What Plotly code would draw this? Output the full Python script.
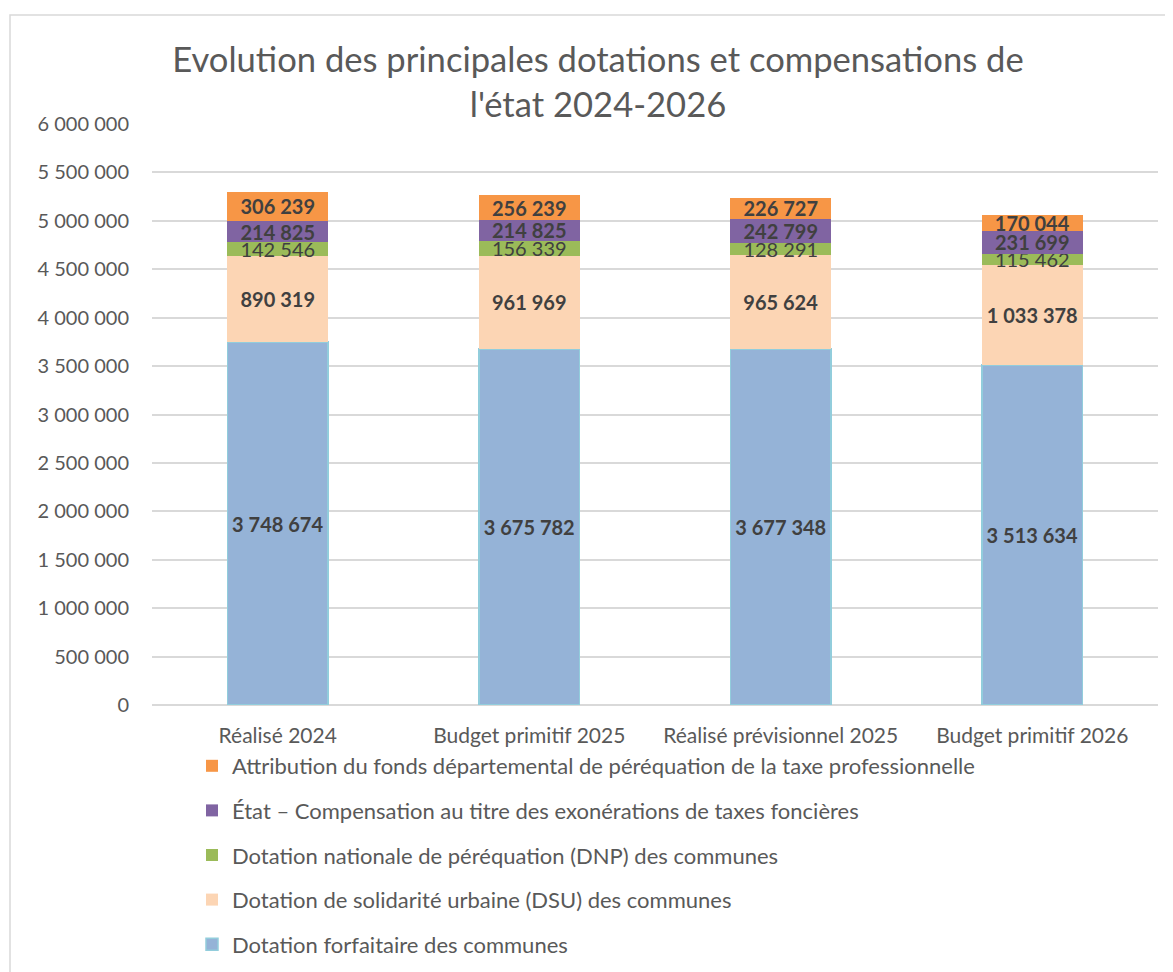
import plotly.graph_objects as go

categories = ["Réalisé 2024", "Budget primitif 2025", "Réalisé prévisionnel 2025", "Budget primitif 2026"]

forfaitaire = [3748674, 3675782, 3677348, 3513634]
dsu = [890319, 961969, 965624, 1033378]
dnp = [142546, 156339, 128291, 115462]
compensation = [214825, 214825, 242799, 231699]
fdptp = [306239, 256239, 226727, 170044]

series_names = [
    "Dotation forfaitaire des communes",
    "Dotation de solidarité urbaine (DSU) des communes",
    "Dotation nationale de péréquation (DNP) des communes",
    "État – Compensation au titre des exonérations de taxes foncières",
    "Attribution du fonds départemental de péréquation de la taxe professionnelle",
]
series_values = [forfaitaire, dsu, dnp, compensation, fdptp]
colors = ["#95B3D7", "#FCD5B4", "#9BBB59", "#8064A2", "#F79646"]
line_colors = ["#92CDDC", "#FCD5B4", "#9BBB59", "#8064A2", "#F79646"]
label_bold = [True, True, False, True, True]

FONT = "Lato"
fig = go.Figure()
n = len(series_names)
for i, (name, vals) in enumerate(zip(series_names, series_values)):
    fig.add_trace(go.Bar(
        x=categories, y=vals, name=name,
        marker=dict(color=colors[i], line=dict(color=line_colors[i], width=1.5 if i == 0 else 0)),
        texttemplate="<b>%{y:,.0f}</b>" if label_bold[i] else "%{y:,.0f}",
        textposition="inside", insidetextanchor="middle",
        constraintext="none", textangle=0,
        textfont=dict(family=FONT, size=20, color="#404040"),
        legendgroup=f"g{i}", legendrank=n - i,
        hoverinfo="skip",
    ))

# page is offset by the 8px body margin
OFF = 8
W, H = 1173 - OFF, 972 - OFF
L, R, T, B = 152 - OFF, 1158 - OFF, 124 - OFF, 705 - OFF
pw, ph = R - L, B - T

def px_x(p):
    return (p - OFF - L) / pw

def px_y(p):
    return (B - (p - OFF)) / ph

fig.update_layout(
    width=W, height=H,
    barmode="stack", bargap=0.6,
    separators=", ",
    paper_bgcolor="white", plot_bgcolor="white",
    margin=dict(l=L, r=W - R, t=T, b=H - B, autoexpand=False),
    font=dict(family=FONT, color="#595959", size=20),
    title=dict(
        text="Evolution des principales dotations et compensations de<br>l'état 2024-2026",
        x=(598 - OFF) / W, xanchor="center", y=1 - 64 / H, yanchor="top",
        font=dict(family=FONT, size=34.6, color="#595959"),
    ),
    xaxis=dict(showgrid=False, showline=False, ticks="", ticklabelstandoff=16,
               tickfont=dict(size=21, color="#595959")),
    yaxis=dict(
        range=[0, 6000000], dtick=500000, tickformat=",.0f",
        showgrid=True, gridcolor="#D9D9D9", gridwidth=1.5,
        zeroline=True, zerolinecolor="#D9D9D9", zerolinewidth=1.5,
        ticks="", ticklen=0, ticklabelstandoff=22,
        tickfont=dict(size=20, color="#595959"),
    ),
    legend=dict(
        orientation="v", traceorder="grouped", tracegroupgap=13,
        x=px_x(192), xanchor="left", y=px_y(745), yanchor="top",
        font=dict(family=FONT, size=22, color="#595959"),
        bgcolor="rgba(0,0,0,0)",
        itemwidth=30,
    ),
    showlegend=True,
    shapes=[dict(
        type="rect", xref="paper", yref="paper",
        x0=px_x(10), x1=px_x(1172), y0=px_y(995), y1=px_y(15),
        line=dict(color="#D9D9D9", width=1.5), layer="below",
    )],
)

fig.write_html("out.html")
